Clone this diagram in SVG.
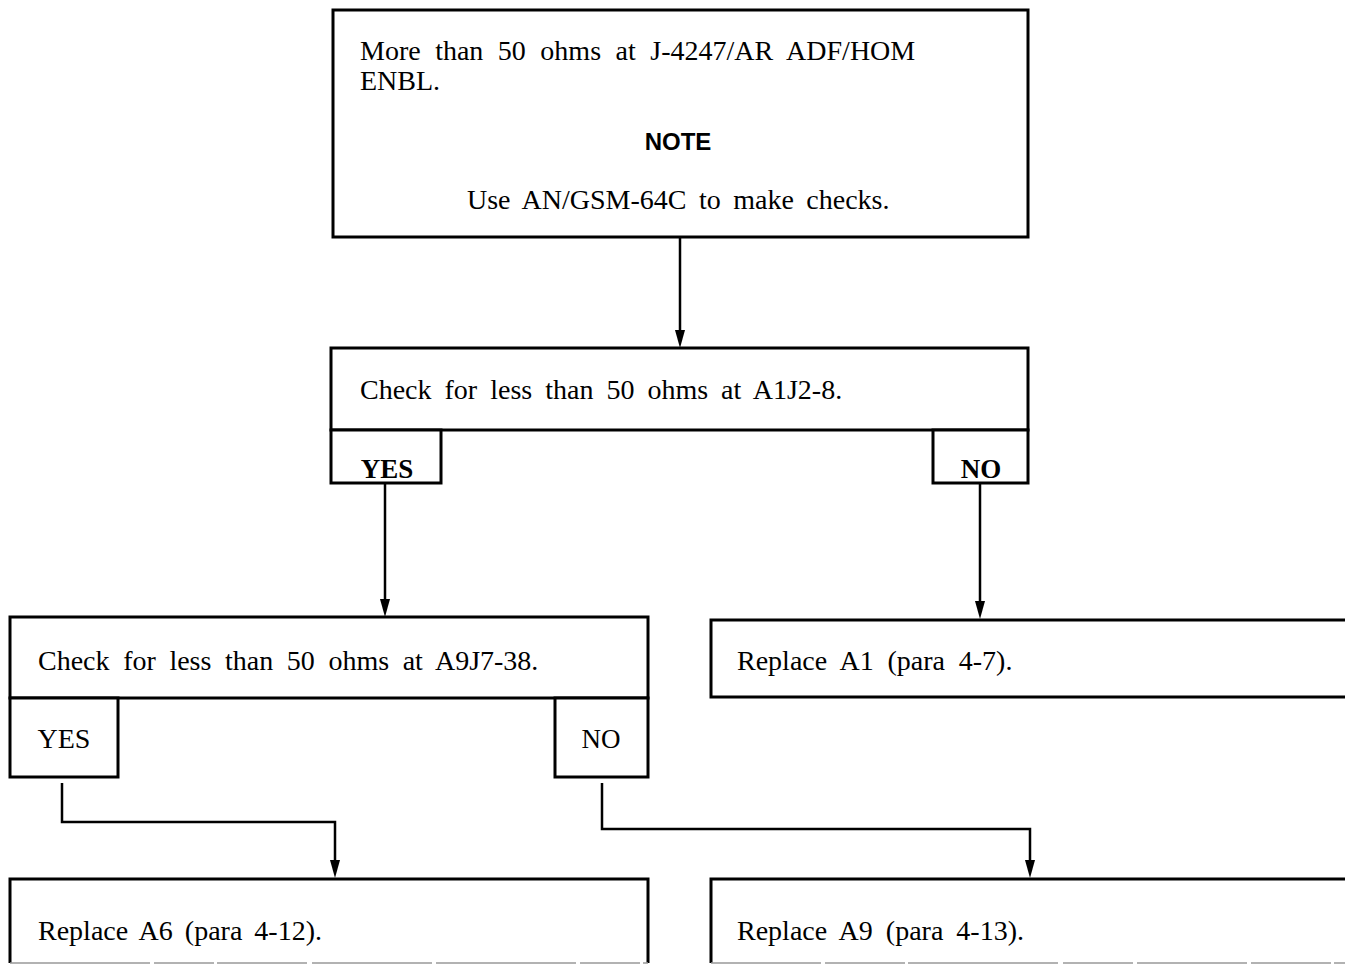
<svg xmlns="http://www.w3.org/2000/svg" width="1345" height="967" viewBox="0 0 1345 967">
  <style>
    .box { fill: #fff; stroke: #000; stroke-width: 3; }
    .t { font-family: "Liberation Serif", "Times New Roman", serif; font-size: 28px; fill: #000; word-spacing: 6px; }
    .yn { font-family: "Liberation Serif", serif; font-size: 27px; font-weight: bold; fill: #000; }
    .note { font-family: "Liberation Sans", Arial, sans-serif; font-size: 24px; font-weight: bold; fill: #000; }
    .wire { fill: none; stroke: #000; stroke-width: 2.5; }
    .head { fill: #000; }
    .worn { stroke: #999; stroke-width: 1.5; }
  </style>
  <rect width="1345" height="967" fill="#fff"/>

  <g id="connectors">
    <line class="wire" x1="680" y1="237" x2="680" y2="331"/>
    <path class="head" d="M675,330 L685,330 L680,348 Z"/>
    <line class="wire" x1="385" y1="483" x2="385" y2="600"/>
    <path class="head" d="M380,599 L390,599 L385,617 Z"/>
    <line class="wire" x1="980" y1="483" x2="980" y2="602"/>
    <path class="head" d="M975,601 L985,601 L980,619 Z"/>
    <polyline class="wire" points="62,783 62,822 335,822 335,862"/>
    <path class="head" d="M330,860 L340,860 L335,878 Z"/>
    <polyline class="wire" points="602,783 602,829 1030,829 1030,862"/>
    <path class="head" d="M1025,860 L1035,860 L1030,878 Z"/>
  </g>

  <g id="start">
    <rect class="box" x="333" y="10" width="695" height="227"/>
    <text class="t" x="360" y="60" style="word-spacing:7.5px">More than 50 ohms at J-4247/AR ADF/HOM</text>
    <text class="t" x="360" y="90">ENBL.</text>
    <text class="note" x="678" y="150" text-anchor="middle">NOTE</text>
    <text class="t" x="467" y="209" style="word-spacing:5.5px">Use AN/GSM-64C to make checks.</text>
  </g>

  <g id="check-a1j2">
    <rect class="box" x="331" y="348" width="697" height="82"/>
    <text class="t" x="360" y="399">Check for less than 50 ohms at A1J2-8.</text>
  </g>
  <g id="check-a1j2-yes">
    <rect class="box" x="331" y="430" width="110" height="53"/>
    <text class="yn" x="387" y="478" text-anchor="middle">YES</text>
  </g>
  <g id="check-a1j2-no">
    <rect class="box" x="933" y="430" width="95" height="53"/>
    <text class="yn" x="981" y="478" text-anchor="middle">NO</text>
  </g>

  <g id="check-a9j7">
    <rect class="box" x="10" y="617" width="638" height="81"/>
    <text class="t" x="38" y="670" style="word-spacing:6.6px">Check for less than 50 ohms at A9J7-38.</text>
  </g>
  <g id="check-a9j7-yes">
    <rect class="box" x="10" y="698" width="108" height="79"/>
    <text class="t" x="64" y="748" text-anchor="middle">YES</text>
  </g>
  <g id="check-a9j7-no">
    <rect class="box" x="555" y="698" width="93" height="79"/>
    <text class="t" x="601" y="748" text-anchor="middle" style="font-size:27px">NO</text>
  </g>

  <g id="replace-a1">
    <path class="box" d="M1345,620 L711,620 L711,697 L1345,697"/>
    <text class="t" x="737" y="670" style="word-spacing:6.8px">Replace A1 (para 4-7).</text>
  </g>

  <!-- lower edges of the last two boxes are only faintly printed -->
  <g id="replace-a6">
    <path class="box" d="M10,963 L10,879 L648,879 L648,963"/>
    <line class="worn" x1="10" y1="963" x2="648" y2="963" stroke-dasharray="140,4,60,3,90,5,120,4"/>
    <text class="t" x="38" y="940" style="word-spacing:5px">Replace A6 (para 4-12).</text>
  </g>

  <g id="replace-a9">
    <path class="box" d="M1345,879 L711,879 L711,963"/>
    <line class="worn" x1="711" y1="963" x2="1345" y2="963" stroke-dasharray="110,4,80,3,150,5,70,4"/>
    <text class="t" x="737" y="940">Replace A9 (para 4-13).</text>
  </g>
</svg>
